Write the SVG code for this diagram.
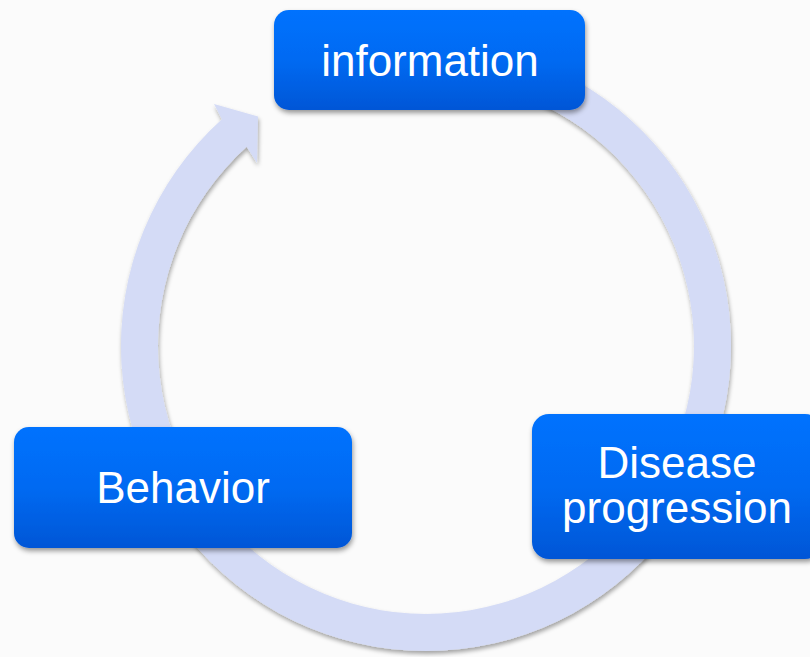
<svg xmlns="http://www.w3.org/2000/svg" width="810" height="657" viewBox="0 0 810 657">
  <defs>
    <linearGradient id="boxGrad" x1="0" y1="0" x2="0" y2="1">
      <stop offset="0" stop-color="#0072fe"/>
      <stop offset="0.5" stop-color="#006af2"/>
      <stop offset="1" stop-color="#0056d6"/>
    </linearGradient>
    <filter id="ringShadow" x="-10%" y="-10%" width="120%" height="120%">
      <feDropShadow dx="1" dy="3" stdDeviation="2" flood-color="#000" flood-opacity="0.35"/>
    </filter>
    <filter id="boxShadow" x="-10%" y="-15%" width="120%" height="140%">
      <feDropShadow dx="1" dy="3" stdDeviation="2.5" flood-color="#000" flood-opacity="0.4"/>
    </filter>
  </defs>
  <style>
    .box { fill: url(#boxGrad); filter: url(#boxShadow); }
    .label { fill: #ffffff; font-family: "Liberation Sans", Arial, sans-serif; font-size: 44px; text-anchor: middle; }
    .ring { fill: #d4dbf6; filter: url(#ringShadow); }
  </style>
  <rect x="0" y="0" width="810" height="657" fill="#fbfbfb"/>
  <g id="connectors">
    <path class="ring" d="M 478.96 45.63 A 305 305 0 1 1 221.92 119.34 L 214 104 L 258 116.5 L 257 163 L 246.67 146.84 A 268 268 0 1 0 472.54 82.07 Z"/>
  </g>
  <g id="node-information">
    <rect class="box" x="274" y="10" width="311" height="100" rx="15" ry="15"/>
    <text class="label" x="430" y="76">information</text>
  </g>
  <g id="node-behavior">
    <rect class="box" x="14" y="427" width="338" height="121" rx="15" ry="15"/>
    <text class="label" x="183" y="503">Behavior</text>
  </g>
  <g id="node-disease">
    <rect class="box" x="532" y="414" width="290" height="145" rx="17" ry="17"/>
    <text class="label" x="677" y="478">Disease</text>
    <text class="label" x="677" y="523">progression</text>
  </g>
</svg>
